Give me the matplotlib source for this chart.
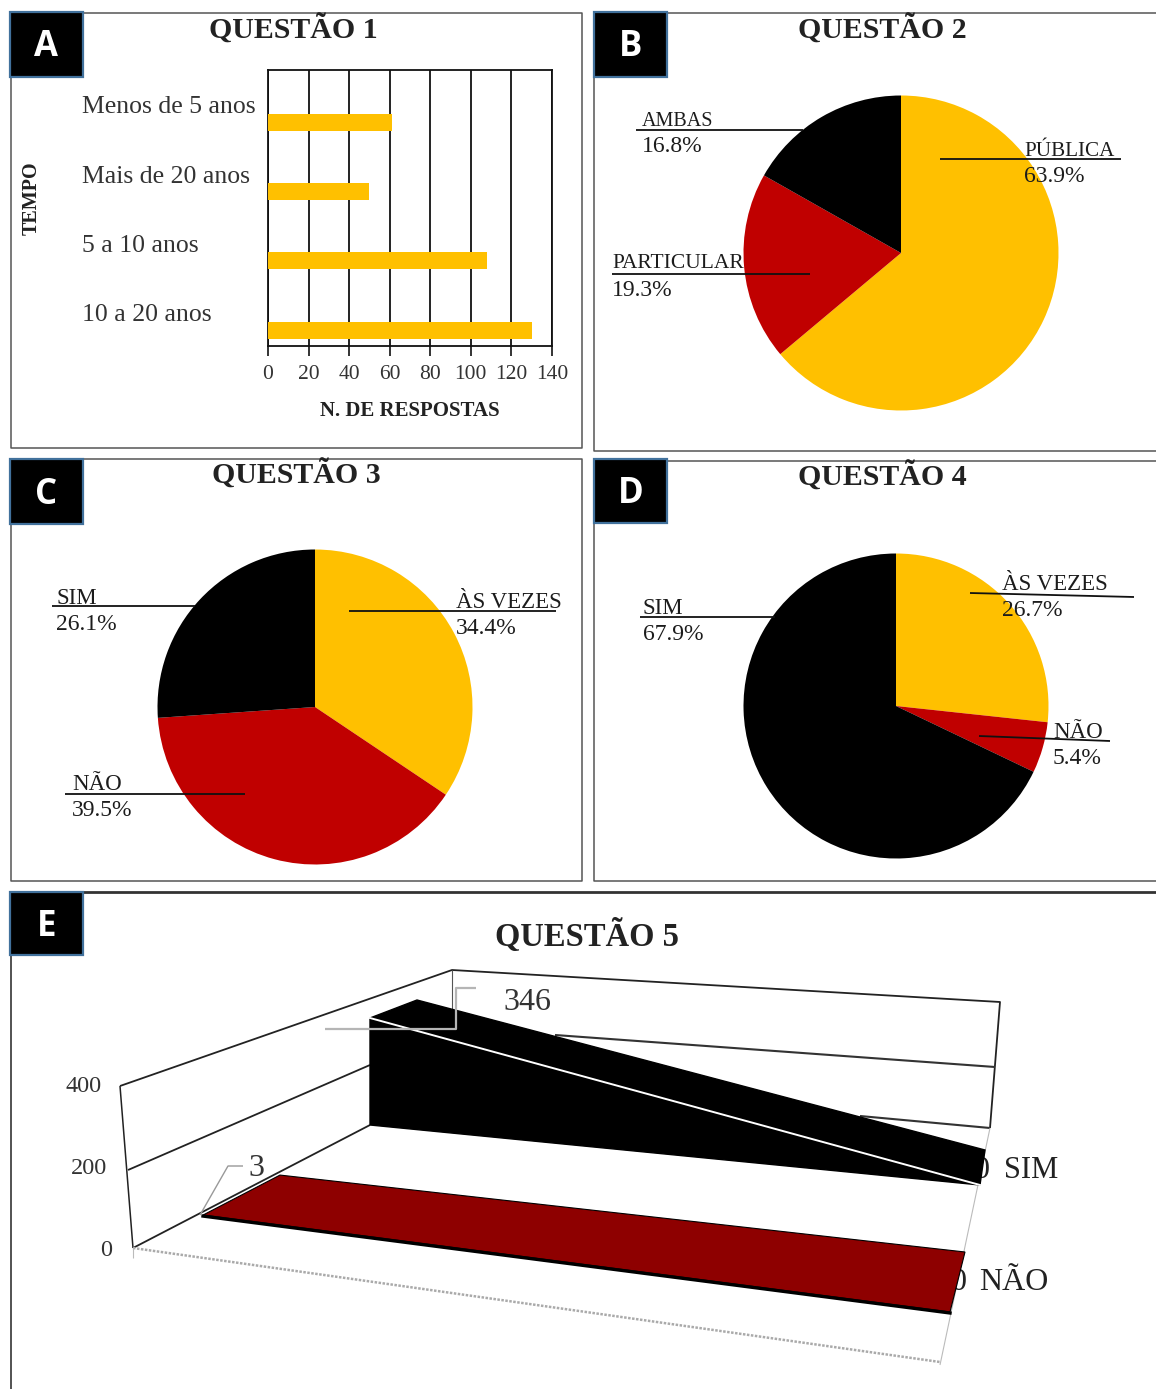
import matplotlib
matplotlib.use("Agg")
import matplotlib.pyplot as plt
from matplotlib.patches import Rectangle, Polygon
import numpy as np

W, H = 1156, 1389
SERIF = "Liberation Serif"
YELLOW, RED, DARKRED = "#FFC000", "#C00000", "#8E0000"
TEXT = "#1c1c1c"

# ---- data ----
q1_categories = ["10 a 20 anos", "5 a 10 anos", "Mais de 20 anos", "Menos de 5 anos"]
q1_values = [130, 108, 50, 61]
q1_ticks = [0, 20, 40, 60, 80, 100, 120, 140]

q2_labels = ["PÚBLICA", "PARTICULAR", "AMBAS"]
q2_values = [63.9, 19.3, 16.8]
q3_labels = ["ÀS VEZES", "NÃO", "SIM"]
q3_values = [34.4, 39.5, 26.1]
q4_labels = ["ÀS VEZES", "NÃO", "SIM"]
q4_values = [26.7, 5.4, 67.9]
pie_colors = [YELLOW, RED, "black"]

q5_series = ["SIM", "NÃO"]
q5_start = [346, 3]
q5_end = [0, 0]
q5_ticks = [0, 200, 400]

fig = plt.figure(figsize=(W / 100, H / 100), dpi=100, facecolor="white")


def px_axes(x0, y0, x1, y1, **kw):
    return fig.add_axes([x0 / W, 1 - y1 / H, (x1 - x0) / W, (y1 - y0) / H], **kw)


# ---- panel A bars ----
axA = px_axes(268, 70, 552, 346)
axA.barh(np.arange(4), q1_values, height=0.245, color=YELLOW, zorder=3)
axA.set_xlim(0, 140)
axA.set_ylim(-0.23, 3.75)
axA.set_xticks(q1_ticks)
axA.set_xticklabels([str(t) for t in q1_ticks], family=SERIF, fontsize=15.5, color="#333333")
axA.tick_params(axis="x", length=7.5, width=1.2, pad=6, color="#111111")
axA.set_yticks(np.arange(4) + 0.25)
axA.set_yticklabels(q1_categories, family=SERIF, fontsize=18.5, color="#333333", ha="left")
axA.tick_params(axis="y", length=0, pad=134)
axA.grid(axis="x", color="#111111", lw=1.3, zorder=1)
axA.set_axisbelow(True)
for s in axA.spines.values():
    s.set_linewidth(1.3)
    s.set_color("#111111")

# ---- pies ----
def pie(cx, cy, r, vals):
    ax = px_axes(cx - r, cy - r, cx + r, cy + r)
    ax.pie(vals, colors=pie_colors, startangle=90, counterclock=False, radius=1,
           wedgeprops=dict(linewidth=0))
    ax.set_xlim(-1, 1)
    ax.set_ylim(-1, 1)
    ax.patch.set_alpha(0)


pie(901, 253, 157.5, q2_values)
pie(315, 707, 157.5, q3_values)
pie(896, 706, 152.5, q4_values)

# ---- overlay in reference pixel space ----
ov = fig.add_axes([0, 0, 1, 1], zorder=5)
ov.set_xlim(0, W)
ov.set_ylim(H, 0)
ov.axis("off")
ov.patch.set_alpha(0)


def line(xs, ys, color="black", lw=1.2, z=6, **kw):
    ov.plot(xs, ys, color=color, lw=lw, zorder=z, solid_capstyle="butt", **kw)


def txt(x, y, s, size=15, ha="left", weight="normal", color=TEXT, z=8, **kw):
    ov.text(x, y, s, family=SERIF, fontsize=size, ha=ha, va="center",
            weight=weight, color=color, zorder=z, **kw)


# frames
frame = "#555555"
line([11, 11, 582, 582, 11], [13, 448, 448, 13, 13], frame, 1.1, 1)
line([1156, 594, 594, 1156], [13, 13, 451, 451], frame, 1.1, 1)
line([11, 11, 582, 582, 11], [459, 881, 881, 459, 459], frame, 1.1, 1)
line([1156, 594, 594, 1156], [461, 461, 881, 881], frame, 1.1, 1)
line([11, 1156], [892, 892], "#333333", 2, 1)
line([11, 11], [892, 1389], "#444444", 1.3, 1)

# panel letters
for (x, y, w, h, s) in [(10, 12, 73, 65, "A"), (594, 12, 73, 65, "B"), (10, 459, 73, 65, "C"),
                        (594, 459, 73, 64, "D"), (10, 892, 73, 63, "E")]:
    ov.add_patch(Rectangle((x, y), w, h, fc="black", ec="#41719C", lw=1.6, zorder=9))
    ov.text(x + w / 2, y + h / 2 + 3, s, family="Open Sans", weight="bold", fontsize=25,
            color="white", ha="center", va="center", zorder=10)

# titles
for (x, y, s) in [(293, 30, "QUESTÃO 1"), (882, 30, "QUESTÃO 2"),
                  (296, 475, "QUESTÃO 3"), (882, 477, "QUESTÃO 4")]:
    txt(x, y, s, size=21.5, ha="center", weight="bold", color="#222222")
ov.text(587, 936, "QUESTÃO 5", family=SERIF, fontsize=23.5, ha="center", va="center",
        color="#222222", weight="bold", zorder=8)

# panel A labels
txt(32, 198, "TEMPO", size=14.5, ha="center", weight="bold", rotation=90, color="#222222")
txt(410, 411, "N. DE RESPOSTAS", size=15, ha="center", weight="bold", color="#222222")

# pie callouts
def callout(label, value, x0, y0, x1, y1, tx, ty, py, size=16.5):
    line([x0, x1], [y0, y1], "#111111", 1.3)
    txt(tx, ty + 2, label, size=size)
    txt(tx, py + 1, f"{value}%", size=17)


callout(q2_labels[2], q2_values[2], 636, 130, 803, 130, 642, 120, 146, 14.5)
callout(q2_labels[0], q2_values[0], 940, 159, 1121, 159, 1024, 149, 175, 15.2)
callout(q2_labels[1], q2_values[1], 612, 274, 810, 274, 612, 262, 289, 15.5)
callout(q3_labels[2], q3_values[2], 52, 606, 195, 606, 56, 596, 623)
callout(q3_labels[0], q3_values[0], 349, 611, 556, 611, 456, 601, 628)
callout(q3_labels[1], q3_values[1], 65, 794, 245, 794, 72, 782, 810)
callout(q4_labels[2], q4_values[2], 640, 617, 775, 617, 643, 606, 633)
callout(q4_labels[0], q4_values[0], 970, 593, 1134, 597, 1002, 582, 609)
callout(q4_labels[1], q4_values[1], 979, 736, 1110, 741, 1053, 730, 757)

# ---- panel E: oblique projection ----
# floor anchors per series: near/far edge at first/second category, and px per unit of value
SCALE = 107 / 346
anchors = {
    "SIM": dict(near0=(370, 1125), far0=(417, 1107), near1=(980, 1185), far1=(985, 1150)),
    "NÃO": dict(near0=(203, 1216), far0=(280, 1176), near1=(950, 1312), far1=(965, 1252)),
}
for name, v0, v1 in zip(q5_series, q5_start, q5_end):
    a = anchors[name]
    lift = lambda p, v: (p[0], p[1] - v * SCALE)
    top = [lift(a["near0"], v0), lift(a["far0"], v0), lift(a["far1"], v1), lift(a["near1"], v1)]
    if name == "SIM":
        ov.add_patch(Polygon([a["near0"]] + top, closed=True, fc="black", ec="black", lw=1, zorder=4))
        ov.plot([top[0][0], top[3][0]], [top[0][1], top[3][1]], color="white", lw=1.4, zorder=5)
    else:
        ov.add_patch(Polygon(top, closed=True, fc=DARKRED, ec="black", lw=0.8, zorder=4))
        ov.plot([top[0][0], top[3][0]], [top[0][1] + 1, top[3][1] + 1], color="black", lw=2.4, zorder=5)

wall = "#222222"
line([133, 120], [1248, 1086], wall, 1.1, 3)
line([120, 452, 1000, 990], [1086, 970, 1002, 1128], wall, 1.3, 3)
line([452, 452], [970, 1020], "#555555", 0.8, 3)
line([128, 370], [1170, 1065], wall, 1.3, 3)
line([555, 995], [1035, 1067], "#333333", 1.5, 3)
line([860, 990], [1116, 1128], "#333333", 1.5, 3)
line([133, 370], [1248, 1125], wall, 1.3, 3)
line([133, 940], [1248, 1362], "#aaaaaa", 1.8, 3, linestyle=(0, (1, 0.6)))
line([990, 940], [1128, 1365], "#bbbbbb", 0.8, 3)
line([133, 133], [1248, 1258], "#bbbbbb", 0.8, 3)
line([325, 456, 456, 476], [1029, 1029, 988, 988], "#b5b5b5", 1.6, 7)
line([200, 228, 243], [1215, 1166, 1166], "#999999", 1.0, 7)

for y, t in zip([1250, 1169, 1087], q5_ticks):
    ov.text({0: 106, 200: 89, 400: 84}[t], y, str(t), family=SERIF, fontsize=17.5,
            ha="center", va="center", color="#333333", zorder=8)
txt(527, 1002, str(q5_start[0]), size=23, ha="center", color="#333333")
txt(256, 1168, str(q5_start[1]), size=23, ha="center", color="#333333")
txt(1031, 1170, q5_series[0], size=22, ha="center", color="#222222")
txt(1014, 1283, q5_series[1], size=23, ha="center", color="#222222")
txt(959, 1283, str(q5_end[1]), size=23, ha="center", color="#222222", z=3)
txt(982, 1170, str(q5_end[0]), size=23, ha="center", color="#222222", z=3)

fig.savefig("out.png", dpi=100)
